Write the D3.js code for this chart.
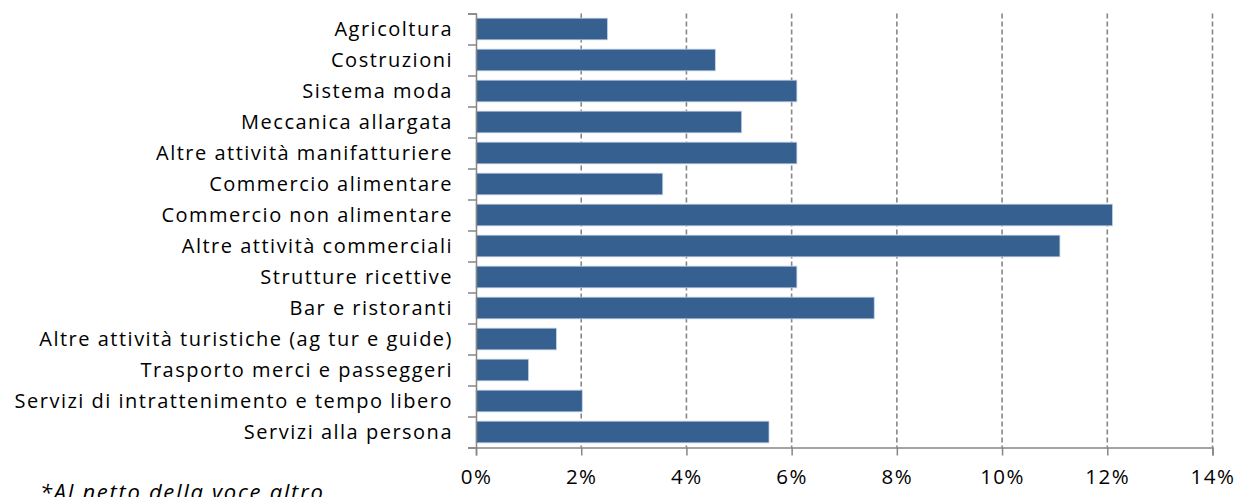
<!DOCTYPE html>
<html>
<head>
<meta charset="utf-8">
<script src="https://cdn.jsdelivr.net/npm/d3@7"></script>
<style>
  body { margin: 0; background: #fff; }
  text { font-family: "Open Sans", sans-serif; fill: #000; }
</style>
</head>
<body>
<div class="board"></div>
<script>
// categories, top to bottom
var categories = [
  'Agricoltura',
  'Costruzioni',
  'Sistema moda',
  'Meccanica allargata',
  'Altre attività manifatturiere',
  'Commercio alimentare',
  'Commercio non alimentare',
  'Altre attività commerciali',
  'Strutture ricettive',
  'Bar e ristoranti',
  'Altre attività turistiche (ag tur e guide)',
  'Trasporto merci e passeggeri',
  'Servizi di intrattenimento e tempo libero',
  'Servizi alla persona'
];
// share, %
var values = [2.5, 4.55, 6.1, 5.05, 6.1, 3.55, 12.1, 11.1, 6.1, 7.57, 1.53, 1.0, 2.02, 5.57];
var xTicks = [0, 2, 4, 6, 8, 10, 12, 14];
var footnote = '*Al netto della voce altro';

var width = 1241, height = 497;
var plotLeft = 476, plotRight = 1212.5, plotTop = 13.5, plotBottom = 447.5;

var svg = d3.select('.board')
  .append('svg')
  .attr('width', width)
  .attr('height', height);

var x = d3.scaleLinear().domain([0, 14]).range([plotLeft, plotRight]);
var y = d3.scaleBand().domain(categories).range([plotTop, plotBottom]).paddingInner(0.3).paddingOuter(0.15);

// dashed grid
svg.selectAll('.grid')
  .data(xTicks.slice(1))
  .enter()
  .append('line')
  .attr('x1', function(d) { return x(d); })
  .attr('x2', function(d) { return x(d); })
  .attr('y1', plotTop)
  .attr('y2', plotBottom)
  .style('stroke', '#868686')
  .style('stroke-width', 1.6)
  .style('stroke-dasharray', '5,3');

// bars
svg.selectAll('.bar')
  .data(values)
  .enter()
  .append('rect')
  .attr('x', x(0))
  .attr('y', function(d, i) { return y(categories[i]); })
  .attr('width', function(d) { return x(d) - x(0); })
  .attr('height', y.bandwidth())
  .style('fill', '#36608f')
  .style('stroke', '#c5d4e6')
  .style('stroke-width', 0.8);

// x axis
var xAxis = svg.append('g')
  .attr('transform', 'translate(0,' + plotBottom + ')')
  .call(d3.axisBottom(x).tickValues(xTicks).tickSize(8).tickPadding(14)
    .tickFormat(function(d) { return d + '%'; }));
xAxis.select('.domain').style('stroke', '#868686').style('stroke-width', 1.5);
xAxis.selectAll('.tick line').style('stroke', '#868686').style('stroke-width', 1.5);
xAxis.selectAll('.tick text').style('font-family', '"Open Sans", sans-serif').style('font-size', '20.5px')
  .style('letter-spacing', '1.5px').style('fill', '#000');

// y axis, ticks at band borders
var y0 = d3.scaleLinear().domain([0, categories.length]).range([plotTop, plotBottom]);
var yAxis = svg.append('g')
  .attr('transform', 'translate(' + plotLeft + ',0)')
  .call(d3.axisLeft(y0).ticks(categories.length).tickSize(8).tickFormat(''));
yAxis.select('.domain').style('stroke', '#868686').style('stroke-width', 1.5);
yAxis.selectAll('.tick line').style('stroke', '#868686').style('stroke-width', 1.5);

// category labels
svg.selectAll('.label')
  .data(categories)
  .enter()
  .append('text')
  .attr('x', 453)
  .attr('y', function(d) { return y(d) + y.bandwidth() / 2; })
  .attr('dy', '0.36em')
  .attr('text-anchor', 'end')
  .style('font-size', '20px')
  .style('letter-spacing', '1.5px')
  .text(function(d) { return d; });

svg.append('text')
  .attr('x', 40)
  .attr('y', 500)
  .style('font-size', '22px')
  .style('font-style', 'italic')
  .style('letter-spacing', '1.7px')
  .text(footnote);
</script>
</body>
</html>
